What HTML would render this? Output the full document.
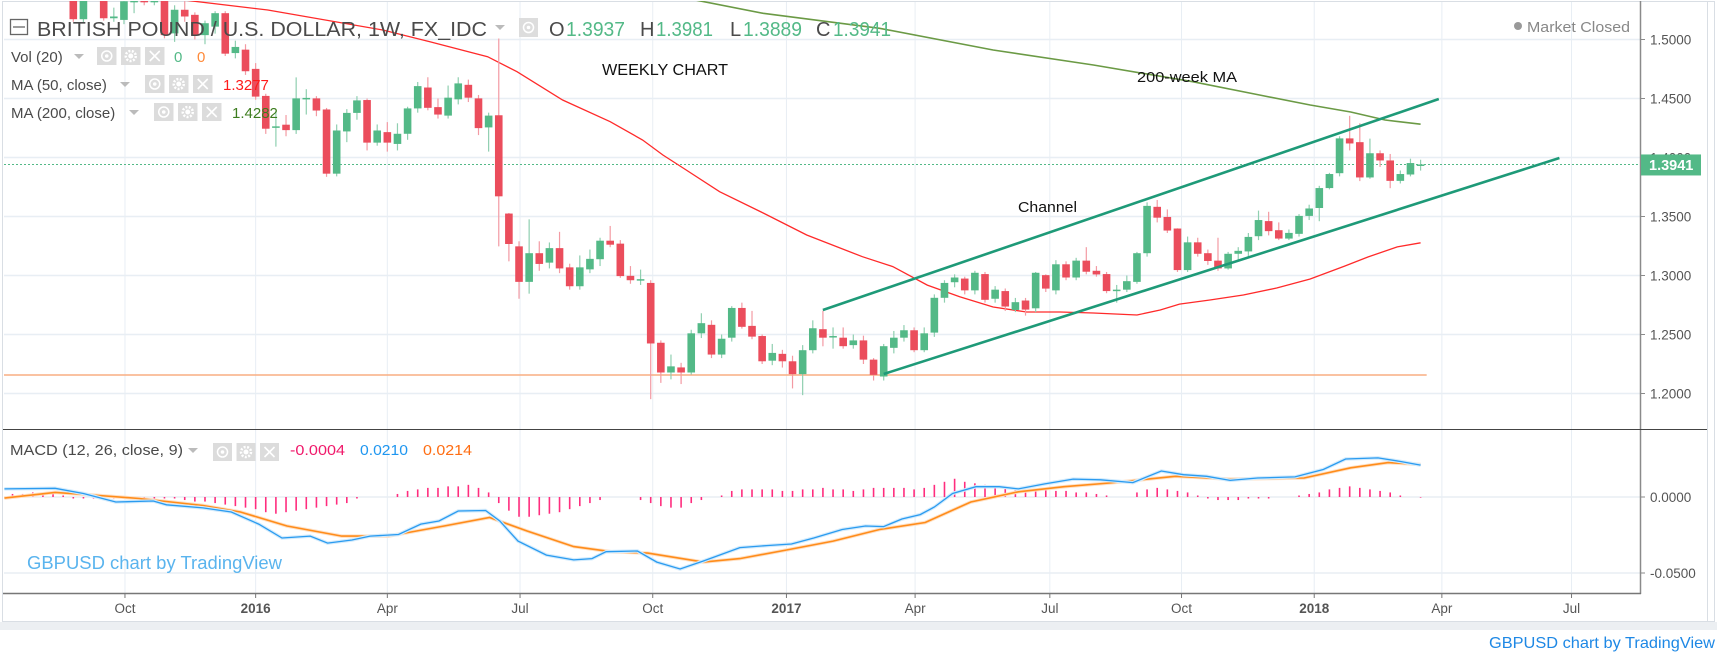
<!DOCTYPE html>
<html><head><meta charset="utf-8"><style>
html,body{margin:0;padding:0;background:#fff;}
svg{display:block;font-family:"Liberation Sans",sans-serif;}
</style></head><body>
<svg id="chart" xmlns="http://www.w3.org/2000/svg" width="1727" height="658" viewBox="0 0 1727 658">
<defs>
<clipPath id="mainClip"><rect x="4" y="1" width="1636" height="428"/></clipPath>
<clipPath id="macdClip"><rect x="4" y="430" width="1636" height="163"/></clipPath>
</defs>
<rect x="0" y="0" width="1727" height="658" fill="#fff"/>
<rect x="2.5" y="1.5" width="1712" height="620" fill="none" stroke="#d9dee4"/>
<rect x="0" y="622" width="1717" height="8" fill="#eceff2"/>
<g id="grid"></g>
<g id="main" clip-path="url(#mainClip)"></g>
<g id="macd" clip-path="url(#macdClip)"></g>
<g id="axes"></g>

<g fill="#4a4a4a">
 <rect x="10.5" y="19.5" width="17" height="15" fill="none" stroke="#666" stroke-width="1.3"/>
 <line x1="13" y1="27" x2="25" y2="27" stroke="#666" stroke-width="1.3"/>
 <text x="37" y="36" font-size="20" textLength="450" lengthAdjust="spacingAndGlyphs">BRITISH POUND / U.S. DOLLAR, 1W, FX_IDC</text>
 <path d="M495 25 L505 25 L500 30 Z" fill="#bbb"/>
 <rect x="519" y="18" width="19" height="19" fill="#ddd"/>
 <circle cx="528.5" cy="27.5" r="5" fill="none" stroke="#fff" stroke-width="1.5"/><circle cx="528.5" cy="27.5" r="1.8" fill="#fff"/>
 <text x="549" y="36" font-size="20">O</text><text x="566" y="36" font-size="20" fill="#53b987" textLength="59" lengthAdjust="spacingAndGlyphs">1.3937</text>
 <text x="640" y="36" font-size="20">H</text><text x="656" y="36" font-size="20" fill="#53b987" textLength="57" lengthAdjust="spacingAndGlyphs">1.3981</text>
 <text x="730" y="36" font-size="20">L</text><text x="743" y="36" font-size="20" fill="#53b987" textLength="59" lengthAdjust="spacingAndGlyphs">1.3889</text>
 <text x="816" y="36" font-size="20">C</text><text x="833" y="36" font-size="20" fill="#53b987" textLength="58" lengthAdjust="spacingAndGlyphs">1.3941</text>

 <text x="11" y="62" font-size="15">Vol (20)</text>
 <path d="M74 54 L84 54 L79 59 Z" fill="#bbb"/>
 <text x="11" y="90" font-size="15">MA (50, close)</text>
 <path d="M120 82 L130 82 L125 87 Z" fill="#bbb"/>
 <text x="11" y="118" font-size="15">MA (200, close)</text>
 <path d="M129 110 L139 110 L134 115 Z" fill="#bbb"/>
 <text x="174" y="62" font-size="15" fill="#53b987">0</text>
 <text x="197" y="62" font-size="15" fill="#ff8a3a">0</text>
 <text x="223" y="90" font-size="15" fill="#ff1a1a">1.3277</text>
 <text x="232" y="118" font-size="15" fill="#3d7d1f">1.4282</text>

 <text x="10" y="455" font-size="14.5" textLength="173" lengthAdjust="spacingAndGlyphs">MACD (12, 26, close, 9)</text>
 <path d="M188 448 L198 448 L193 453 Z" fill="#bbb"/>
 <text x="290" y="455" font-size="14.5" fill="#f0186a" textLength="55" lengthAdjust="spacingAndGlyphs">-0.0004</text>
 <text x="360" y="455" font-size="14.5" fill="#1e96f0" textLength="48" lengthAdjust="spacingAndGlyphs">0.0210</text>
 <text x="423" y="455" font-size="14.5" fill="#ff6d12" textLength="49" lengthAdjust="spacingAndGlyphs">0.0214</text>
</g>
<g id="iconboxes"></g>

<circle cx="1518" cy="26" r="4" fill="#999"/>
<text x="1527" y="32" font-size="15" fill="#888" textLength="103" lengthAdjust="spacingAndGlyphs">Market Closed</text>

<text x="602" y="75" font-size="16" fill="#111" textLength="126" lengthAdjust="spacingAndGlyphs">WEEKLY CHART</text>
<text x="1137" y="82" font-size="15" fill="#111" textLength="100" lengthAdjust="spacingAndGlyphs">200-week MA</text>
<text x="1018" y="212" font-size="15" fill="#111" textLength="59" lengthAdjust="spacingAndGlyphs">Channel</text>

<text x="27" y="569" font-size="18" fill="#5ab4ee" textLength="255" lengthAdjust="spacingAndGlyphs">GBPUSD chart by TradingView</text>
<text x="1489" y="648" font-size="16" fill="#1e88e5" textLength="226" lengthAdjust="spacingAndGlyphs">GBPUSD chart by TradingView</text>
</svg>
<script>
const openP=[1.5400,1.5172,1.5450,1.5400,1.5180,1.5166,1.5315,1.5380,1.5315,1.5380,1.5052,1.5252,1.5209,1.5037,1.5109,1.5223,1.4885,1.4914,1.4751,1.4522,1.4255,1.4278,1.4232,1.4499,1.4501,1.4407,1.3863,1.4221,1.4378,1.4487,1.4126,1.4215,1.4115,1.4201,1.4416,1.4593,1.4427,1.4355,1.4493,1.4616,1.4501,1.4255,1.4358,1.3525,1.3247,1.2946,1.3189,1.3109,1.3232,1.3069,1.2909,1.3052,1.3138,1.3295,1.3270,1.2997,1.2965,1.2937,1.2430,1.2178,1.2221,1.2178,1.2510,1.2582,1.2330,1.2473,1.2725,1.2573,1.2487,1.2278,1.2336,1.2273,1.2164,1.2367,1.2545,1.2482,1.2473,1.2410,1.2450,1.2287,1.2144,1.2387,1.2473,1.2536,1.2367,1.2516,1.2811,1.2943,1.2974,1.2874,1.3012,1.2803,1.2868,1.2708,1.2788,1.2722,1.3003,1.2874,1.3095,1.2983,1.3126,1.3040,1.3012,1.2874,1.2880,1.2946,1.3189,1.3582,1.3496,1.3398,1.3046,1.3281,1.3189,1.3126,1.3060,1.3184,1.3204,1.3333,1.3461,1.3384,1.3313,1.3353,1.3505,1.3572,1.3741,1.3867,1.4162,1.4130,1.3831,1.4036,1.3975,1.3802,1.3856,1.3937];
const closeP=[1.5172,1.5450,1.5420,1.5180,1.5195,1.5324,1.5340,1.5315,1.5360,1.5037,1.5252,1.5195,1.5037,1.5138,1.5223,1.4880,1.4937,1.4731,1.4516,1.4244,1.4264,1.4232,1.4501,1.4505,1.4398,1.3863,1.4229,1.4378,1.4484,1.4126,1.4229,1.4126,1.4201,1.4416,1.4605,1.4421,1.4364,1.4507,1.4628,1.4507,1.4249,1.4355,1.3671,1.3267,1.2946,1.3189,1.3098,1.3232,1.3060,1.2909,1.3069,1.3141,1.3295,1.3261,1.2995,1.2960,1.2969,1.2424,1.2178,1.2230,1.2178,1.2510,1.2596,1.2330,1.2464,1.2725,1.2565,1.2482,1.2273,1.2344,1.2273,1.2164,1.2367,1.2553,1.2473,1.2487,1.2401,1.2450,1.2287,1.2158,1.2401,1.2473,1.2536,1.2367,1.2510,1.2811,1.2937,1.2983,1.2874,1.3023,1.2794,1.2880,1.2737,1.2774,1.2711,1.3023,1.2889,1.3095,1.2983,1.3126,1.3032,1.3009,1.2868,1.2880,1.2952,1.3189,1.3590,1.3490,1.3381,1.3046,1.3281,1.3184,1.3123,1.3060,1.3184,1.3209,1.3327,1.3470,1.3376,1.3313,1.3361,1.3505,1.3568,1.3741,1.3860,1.4162,1.4119,1.3831,1.4036,1.3975,1.3802,1.3860,1.3953,1.3941];
const highP=[1.5550,1.5500,1.5520,1.5440,1.5270,1.5380,1.5400,1.5420,1.5400,1.5400,1.5290,1.5340,1.5230,1.5160,1.5240,1.5240,1.4990,1.4960,1.4800,1.4540,1.4393,1.4360,1.4679,1.4579,1.4520,1.4420,1.4280,1.4410,1.4520,1.4500,1.4280,1.4300,1.4290,1.4430,1.4640,1.4680,1.4500,1.4610,1.4680,1.4660,1.4530,1.4380,1.5009,1.3530,1.3290,1.3476,1.3290,1.3280,1.3370,1.3100,1.3170,1.3220,1.3320,1.3420,1.3300,1.3080,1.3050,1.2960,1.2450,1.2330,1.2260,1.2540,1.2680,1.2620,1.2500,1.2740,1.2770,1.2700,1.2500,1.2420,1.2370,1.2320,1.2410,1.2620,1.2702,1.2560,1.2560,1.2500,1.2490,1.2300,1.2420,1.2530,1.2580,1.2560,1.2560,1.2840,1.2960,1.3010,1.2990,1.3040,1.3030,1.2910,1.2890,1.2810,1.2810,1.3030,1.3010,1.3130,1.3120,1.3150,1.3240,1.3080,1.3030,1.2920,1.3000,1.3200,1.3620,1.3640,1.3560,1.3400,1.3330,1.3320,1.3220,1.3320,1.3200,1.3240,1.3360,1.3550,1.3540,1.3450,1.3390,1.3520,1.3600,1.3760,1.3870,1.4180,1.4353,1.4290,1.4160,1.4060,1.4030,1.3890,1.3990,1.3981];
const lowP=[1.5150,1.5140,1.5360,1.5160,1.5150,1.5130,1.5223,1.5290,1.5290,1.5010,1.4980,1.5150,1.5000,1.4960,1.5050,1.4860,1.4840,1.4700,1.4490,1.4200,1.4092,1.4180,1.4200,1.4364,1.4350,1.3836,1.3840,1.4130,1.4320,1.4060,1.4100,1.4050,1.4060,1.4150,1.4380,1.4400,1.4330,1.4330,1.4450,1.4470,1.4190,1.4050,1.3247,1.3120,1.2803,1.2846,1.3040,1.3060,1.3020,1.2880,1.2880,1.3020,1.3080,1.3240,1.2980,1.2930,1.2920,1.1952,1.2090,1.2120,1.2080,1.2160,1.2470,1.2300,1.2300,1.2440,1.2550,1.2460,1.2250,1.2240,1.2220,1.2043,1.1986,1.2340,1.2400,1.2380,1.2380,1.2380,1.2250,1.2110,1.2110,1.2340,1.2440,1.2350,1.2350,1.2480,1.2770,1.2900,1.2840,1.2840,1.2770,1.2770,1.2700,1.2690,1.2660,1.2690,1.2860,1.2840,1.2960,1.2960,1.3010,1.2990,1.2850,1.2770,1.2860,1.2930,1.3160,1.3450,1.3360,1.3030,1.3030,1.3160,1.3090,1.3040,1.3050,1.3120,1.3160,1.3300,1.3340,1.3300,1.3300,1.3330,1.3470,1.3460,1.3730,1.3840,1.4060,1.3800,1.3820,1.3920,1.3740,1.3780,1.3840,1.3889];
const ma50Week=[10.9,19.2,30.6,35.2,40.9,43.8,48.3,53.0,56.2,58.2,60.2,63.8,68.1,72.4,77.9,80.9,84.3,87.5,90.8,94.1,97.4,100.7,105.0,107.3,109.2,112.2,115.5,118.8,122.1,125.5,127.8,130.7,133.0];
const ma50Val=[1.5335,1.5250,1.5080,1.4981,1.4854,1.4727,1.4487,1.4303,1.4148,1.4021,1.3911,1.3710,1.3530,1.3343,1.3159,1.3075,1.2919,1.2820,1.2733,1.2691,1.2691,1.2682,1.2665,1.2708,1.2758,1.2792,1.2835,1.2894,1.2970,1.3080,1.3157,1.3242,1.3277];
const ma200Week=[52.0,57.0,61.4,68.1,79.6,90.8,100.7,110.5,117.1,122.1,126.1,129.5,133.0];
const ma200Val=[1.5500,1.5400,1.5335,1.5222,1.5095,1.4911,1.4784,1.4642,1.4530,1.4445,1.4386,1.4318,1.4282];
const upperChannel={w:[74,134.8],p:[1.2708,1.4496]};
const lowerChannel={w:[80,146.7],p:[1.2165,1.3996]};
const supportLevel=1.2157;
const lastPrice=1.3941;
const macdWeek=[-6.8,-1.8,1.0,4.2,7.9,9.2,12.8,15.6,18.3,20.6,23.4,25.1,27.5,29.3,32.1,34.3,36.1,38.0,40.7,42.1,43.9,46.7,49.4,51.2,52.6,55.7,57.6,59.9,62.2,65.8,68.6,70.9,73.1,75.9,78.2,80.0,81.8,83.6,85.0,86.8,89.1,91.4,93.3,95.9,98.7,101.4,104.6,107.4,109.6,111.9,114.2,116.9,120.6,123.4,125.6,128.8,131.1,133.0];
const macdVal=[0.0053,0.0057,0.0023,-0.0033,-0.0026,-0.0051,-0.0072,-0.0099,-0.0178,-0.0270,-0.0257,-0.0303,-0.0283,-0.0257,-0.0247,-0.0178,-0.0158,-0.0092,-0.0089,-0.0158,-0.0290,-0.0382,-0.0414,-0.0405,-0.0360,-0.0355,-0.0428,-0.0474,-0.0421,-0.0333,-0.0319,-0.0309,-0.0270,-0.0214,-0.0191,-0.0195,-0.0145,-0.0116,-0.0066,0.0023,0.0068,0.0068,0.0053,0.0086,0.0118,0.0113,0.0095,0.0171,0.0147,0.0136,0.0109,0.0125,0.0132,0.0181,0.0250,0.0257,0.0233,0.0210];
const signalWeek=[-6.8,-1.8,1.9,6.5,12.8,16.5,21.1,26.5,31.1,36.6,41.1,44.8,49.4,53.1,56.7,62.2,65.8,70.4,75.0,79.6,84.1,88.6,93.3,97.8,102.3,108.8,114.2,121.5,126.1,129.8,133.0];
const signalVal=[-0.0007,0.0030,0.0013,-0.0010,-0.0056,-0.0099,-0.0191,-0.0257,-0.0257,-0.0191,-0.0135,-0.0224,-0.0326,-0.0360,-0.0369,-0.0428,-0.0405,-0.0349,-0.0290,-0.0214,-0.0168,-0.0033,0.0034,0.0068,0.0092,0.0136,0.0118,0.0125,0.0192,0.0226,0.0214];
const histStart=-6;
const histVal=[0.002,0.002,0.003,0.003,0.002,0.001,
-0.001,-0.001,-0.001,-0.001,-0.001,-0.001,-0.001,-0.001,-0.001,-0.001,-0.001,
-0.002,-0.003,-0.003,-0.004,-0.005,-0.006,-0.007,-0.008,-0.010,-0.011,-0.010,-0.009,-0.008,-0.007,-0.006,-0.005,-0.004,
-0.001,0,0,0,
0.002,0.004,0.005,0.006,0.006,0.007,0.007,0.008,0.006,0.003,
-0.004,-0.009,-0.013,-0.013,-0.012,-0.011,-0.010,-0.008,-0.006,-0.004,-0.002,
0,0,0,
-0.002,-0.004,-0.006,-0.007,-0.007,-0.004,-0.002,
0,0.001,
0.004,0.005,0.005,0.005,0.005,0.004,0.004,0.005,0.005,0.006,0.005,0.005,0.004,0.005,0.006,0.006,0.006,0.006,0.005,0.006,
0.008,0.010,0.012,0.010,0.009,0.008,
0.007,0.007,0.006,0.005,0.005,0.005,0.004,0.004,0.003,0.003,0.002,0.001,
0,0,
0.003,0.005,0.006,0.005,0.004,0.003,0.001,
-0.001,-0.002,-0.002,-0.002,-0.001,-0.001,-0.001,
0,0,
0.001,0.002,0.003,0.005,0.006,0.007,0.006,0.005,0.004,0.003,0.001,
0,-0.0004];
const priceTicks=[1.20,1.25,1.30,1.35,1.40,1.45,1.50];
const priceTickLabels=["1.2000","1.2500","1.3000","1.3500","1.4000","1.4500","1.5000"];
const macdTicks=[0,-0.05];
const macdTickLabels=["0.0000","-0.0500"];
const timeTickWeek=[5.1,18.0,31.0,44.1,57.2,70.4,83.1,96.4,109.4,122.5,135.1,147.9];
const timeTickLabels=["Oct","2016","Apr","Jul","Oct","2017","Apr","Jul","Oct","2018","Apr","Jul"];
const timeTickBold=[false,true,false,false,false,true,false,false,false,true,false,false];

const X0=73.3, DX=10.13;
const xW=w=>X0+DX*w;
const yP=p=>39.5+(1.5-p)*1180;
const yM=v=>497-v*1520;
const NS="http://www.w3.org/2000/svg";
function mk(tag,attrs,parent){const e=document.createElementNS(NS,tag);for(const k in attrs)e.setAttribute(k,attrs[k]);parent.appendChild(e);return e;}
const grid=document.getElementById('grid'),main=document.getElementById('main'),macd=document.getElementById('macd'),axes=document.getElementById('axes');

timeTickWeek.forEach((w,i)=>{const l=mk('line',{x1:xW(w),x2:xW(w),y1:2,y2:593,stroke:'#e8eef4','stroke-width':1},grid);

});
priceTicks.forEach(p=>{const l=mk('line',{x1:4,x2:1640,y1:yP(p),y2:yP(p),stroke:'#e8eef4','stroke-width':1.5},grid);

});
macdTicks.forEach(v=>{const l=mk('line',{x1:4,x2:1640,y1:yM(v),y2:yM(v),stroke:'#e8eef4','stroke-width':1.5},grid);

});

let sl=mk('line',{x1:4,x2:xW(133.6),y1:yP(supportLevel),y2:yP(supportLevel),stroke:'#f9ad82','stroke-width':1.5},main);



let lp=mk('line',{x1:4,x2:1640,y1:yP(lastPrice),y2:yP(lastPrice),stroke:'#53b987','stroke-width':1,'stroke-dasharray':'2 2'},main);



function polyline(ws,vs,yf,attrs,parent,name){const pts=ws.map((w,i)=>xW(w).toFixed(1)+','+yf(vs[i]).toFixed(1)).join(' ');
const e=mk('polyline',Object.assign({points:pts,fill:'none'},attrs),parent);

return e;}

polyline(ma50Week,ma50Val,yP,{stroke:'#ff2a2a','stroke-width':1.3},main,'ma50-line');
polyline(ma200Week,ma200Val,yP,{stroke:'#6b9a45','stroke-width':1.6},main,'ma200-line');

for(let i=0;i<openP.length;i++){
 const o=openP[i],c=closeP[i],h=highP[i],l=lowP[i];
 const up=c>=o, col=up?'#53b987':'#eb4d5c', wk=up?'#8fcfb0':'#f39aa3';
 const x=xW(i);
 const g=mk('g',{},main);
 
 
 mk('line',{x1:x,x2:x,y1:yP(h),y2:yP(l),stroke:wk,'stroke-width':1.2},g);
 const top=yP(Math.max(o,c)),bot=yP(Math.min(o,c));
 mk('rect',{x:x-3.8,y:top,width:7.6,height:Math.max(1.5,bot-top),fill:col},g);
}

polyline(upperChannel.w,upperChannel.p,yP,{stroke:'#1e9a78','stroke-width':2.6},main,'upper-channel-line');
polyline(lowerChannel.w,lowerChannel.p,yP,{stroke:'#1e9a78','stroke-width':2.6},main,'lower-channel-line');

histVal.forEach((v,k)=>{if(v===0)return;const w=histStart+k;
 const b=mk('line',{x1:xW(w),x2:xW(w),y1:yM(0),y2:yM(v),stroke:'#ff2d7e','stroke-width':1.6},macd);
 
 });
polyline(signalWeek,signalVal,yM,{stroke:'#ffe0c4','stroke-width':3.5},macd,'signal-line-halo');
polyline(signalWeek,signalVal,yM,{stroke:'#ff8c1a','stroke-width':1.6},macd,'signal-line');
polyline(macdWeek,macdVal,yM,{stroke:'#d3ebfc','stroke-width':3.5},macd,'macd-line-halo');
polyline(macdWeek,macdVal,yM,{stroke:'#2a9bf0','stroke-width':1.3},macd,'macd-line');

let a=mk('line',{x1:1640.5,x2:1640.5,y1:1,y2:594,stroke:'#8a8a8a','stroke-width':1.5},axes);


a=mk('line',{x1:3,x2:1707,y1:429.5,y2:429.5,stroke:'#444','stroke-width':1},axes);


a=mk('line',{x1:3,x2:1641,y1:593.5,y2:593.5,stroke:'#777','stroke-width':1.5},axes);


a=mk('line',{x1:1707.5,x2:1707.5,y1:1,y2:622,stroke:'#d9dee4','stroke-width':1},axes);



priceTicks.forEach((p,i)=>{
 mk('line',{x1:1641,x2:1645,y1:yP(p),y2:yP(p),stroke:'#8a8a8a'},axes);
 const t=mk('text',{x:1650,y:yP(p)+5,'font-size':13.5,fill:'#555'},axes);t.textContent=priceTickLabels[i];
 
 });
macdTicks.forEach((v,i)=>{
 mk('line',{x1:1641,x2:1645,y1:yM(v),y2:yM(v),stroke:'#8a8a8a'},axes);
 const t=mk('text',{x:1650,y:yM(v)+5,'font-size':13.5,fill:'#555'},axes);t.textContent=macdTickLabels[i];
 
 });
timeTickWeek.forEach((w,i)=>{
 mk('line',{x1:xW(w),x2:xW(w),y1:594,y2:598,stroke:'#777'},axes);
 const t=mk('text',{x:xW(w),y:613,'font-size':13.5,fill:'#555','text-anchor':'middle','font-weight':timeTickBold[i]?'bold':'normal'},axes);t.textContent=timeTickLabels[i];
 
 });

const lb=mk('rect',{x:1641,y:yP(lastPrice)-10,width:60,height:21,fill:'#53b987'},axes);


const lt=mk('text',{x:1649,y:yP(lastPrice)+5.5,'font-size':14.5,fill:'#fff','font-weight':'bold'},axes);lt.textContent=lastPrice.toFixed(4);



const ib=document.getElementById('iconboxes');
const boxRows=[[97,47],[145,75],[154,103],[213,443]];
boxRows.forEach(([bx,by],r)=>{for(let k=0;k<3;k++){
 const w=r===3?19:19.5, gap=r===3?23.5:24, x=bx+k*gap;
 const b=mk('rect',{x:x,y:by,width:w,height:18,fill:'#dcdcdc'},ib);
 
 
 const cx=x+w/2,cy=by+9;
 if(k===0){mk('circle',{cx:cx,cy:cy,r:5,fill:'none',stroke:'#fff','stroke-width':1.5},ib);mk('circle',{cx:cx,cy:cy,r:1.8,fill:'#fff'},ib);}
 else if(k===1){mk('circle',{cx:cx,cy:cy,r:5,fill:'none',stroke:'#fff','stroke-width':2.5,'stroke-dasharray':'2 1.5'},ib);mk('circle',{cx:cx,cy:cy,r:2.5,fill:'#fff'},ib);}
 else{mk('path',{d:`M${cx-5} ${cy-5} L${cx+5} ${cy+5} M${cx+5} ${cy-5} L${cx-5} ${cy+5}`,stroke:'#fff','stroke-width':1.6},ib);}
}});
</script>
</body></html>
